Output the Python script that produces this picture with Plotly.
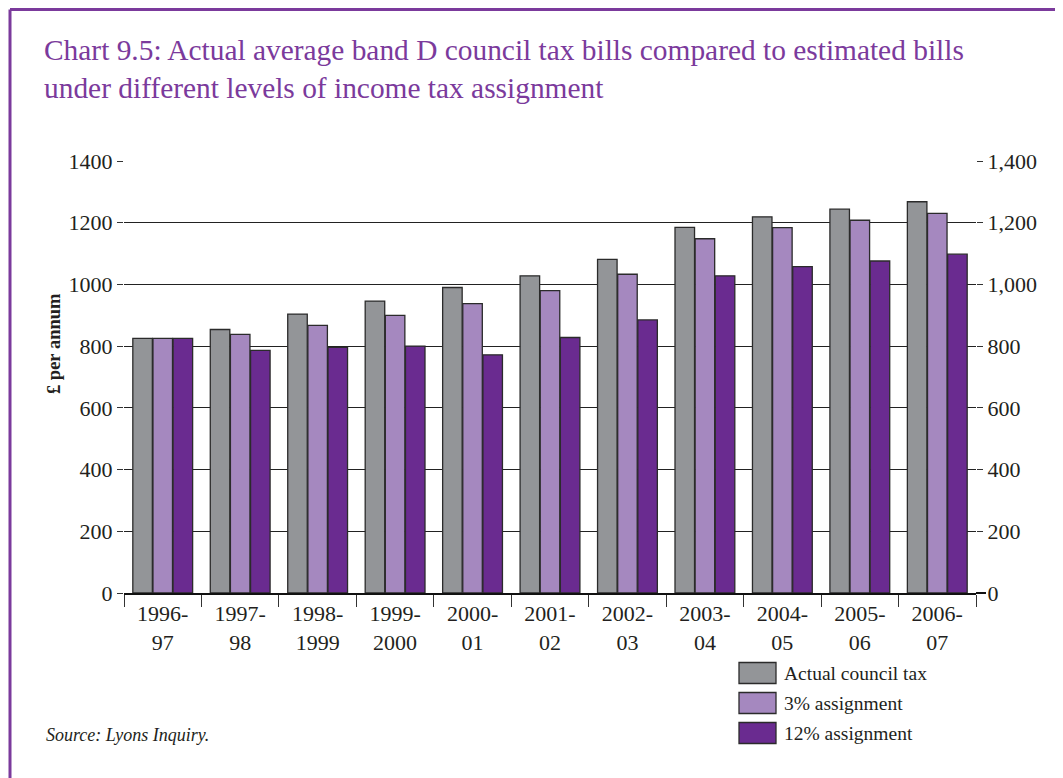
import plotly.graph_objects as go

# Jahre (zweizeilige Beschriftung wie im Original)
years = ["1996-<br>97", "1997-<br>98", "1998-<br>1999", "1999-<br>2000", "2000-<br>01",
         "2001-<br>02", "2002-<br>03", "2003-<br>04", "2004-<br>05", "2005-<br>06", "2006-<br>07"]

actual = [825, 854, 904, 946, 990, 1028, 1081, 1185, 1219, 1244, 1268]
assign_3 = [825, 838, 867, 900, 938, 980, 1033, 1148, 1184, 1208, 1230]
assign_12 = [825, 786, 796, 800, 772, 828, 885, 1028, 1058, 1076, 1098]

series_names = ["Actual council tax", "3% assignment", "12% assignment"]
colors = ["#939598", "#a588bf", "#6a2b90"]

FONT = "Liberation Serif"
PURPLE = "#7b3a9c"
TEXT = "#231f20"

# die Seite hat 8px Rand -> alles in Bildschirm-Pixeln angeben und umrechnen
OFF = 8
W, H = 1063 - OFF, 778 - OFF
L, R, T, B = 124 - OFF, 976 - OFF, 161 - OFF, 593 - OFF

def px_x(x):
    return (x - OFF - L) / (R - L)

def px_y(y):
    return (B - (y - OFF)) / (B - T)

fig = go.Figure()
for name, vals, col in zip(series_names, [actual, assign_3, assign_12], colors):
    fig.add_trace(go.Bar(x=years, y=vals, name=name, marker_color=col,
                         marker_line=dict(color="#2b2b2b", width=1.3),
                         showlegend=False))

# unsichtbare Linie, damit die rechte Achse gezeichnet wird
fig.add_trace(go.Scatter(x=years, y=actual, yaxis="y2", mode="lines", opacity=0,
                         showlegend=False, hoverinfo="skip"))

fig.update_layout(
    width=W, height=H,
    margin=dict(l=L, r=W - R, t=T, b=H - B),
    paper_bgcolor="white", plot_bgcolor="white",
    font=dict(family=FONT, color=TEXT, size=22),
    barmode="group", bargap=0.22, bargroupgap=0.03,
    title=dict(text="Chart 9.5: Actual average band D council tax bills compared to estimated bills<br>"
                    "under different levels of income tax assignment",
               x=(44 - OFF) / W, xanchor="left", xref="container",
               y=1 - 52 / H, yanchor="top", yref="container",
               font=dict(family=FONT, size=29.4, color=PURPLE)),
    xaxis=dict(range=[-0.5, len(years) - 0.5], showline=True, linecolor="#111", linewidth=2,
               ticks="outside", tickson="boundaries", ticklen=12, tickcolor="#333", tickwidth=1,
               tickfont=dict(size=22), showgrid=False),
    yaxis=dict(range=[0, 1400], dtick=200, tickformat="d", showgrid=True,
               gridcolor="#222", gridwidth=1.3, zeroline=False, showline=False,
               ticks="outside", ticklen=6, tickcolor="#333", tickfont=dict(size=22)),
    yaxis2=dict(range=[0, 1400], dtick=200, tickformat=",", overlaying="y", side="right",
                showgrid=False, zeroline=False, showline=False,
                ticks="outside", ticklen=6, tickcolor="#333", tickfont=dict(size=22)),
)

fig.add_annotation(text="<b>£ per annum</b>", textangle=-90, x=px_x(54), y=px_y(344),
                   xref="paper", yref="paper", xanchor="center", yanchor="middle",
                   showarrow=False, font=dict(family=FONT, size=18.5, color=TEXT))
fig.add_annotation(text="<i>Source: Lyons Inquiry.</i>", x=px_x(44), y=px_y(735),
                   xref="paper", yref="paper", xanchor="left", yanchor="middle",
                   showarrow=False, font=dict(family=FONT, size=18, color=TEXT))

# Legende von Hand: große Kästchen wie im Original
legend_rows = [673, 703, 733]
for name, col, yc in zip(series_names, colors, legend_rows):
    fig.add_shape(type="rect", xref="paper", yref="paper",
                  x0=px_x(739), x1=px_x(776), y0=px_y(yc - 10.5), y1=px_y(yc + 10.5),
                  fillcolor=col, line=dict(color="#2b2b2b", width=1.3))
    fig.add_annotation(text=name, x=px_x(782), y=px_y(yc), xref="paper", yref="paper",
                       xanchor="left", yanchor="middle", showarrow=False,
                       font=dict(family=FONT, size=19.5, color=TEXT))

# x-Achse rechts etwas verlängert (wie im Original)
fig.add_shape(type="line", xref="paper", yref="paper", x0=1, x1=px_x(986), y0=0, y1=0,
              line=dict(color="#111", width=2))

# lila Rahmen oben und links
fig.add_shape(type="line", xref="paper", yref="paper", x0=px_x(10), x1=px_x(1070),
              y0=px_y(9.5), y1=px_y(9.5), line=dict(color=PURPLE, width=3))
fig.add_shape(type="line", xref="paper", yref="paper", x0=px_x(10), x1=px_x(10),
              y0=px_y(9.5), y1=px_y(790), line=dict(color=PURPLE, width=3))

fig.write_html("out.html")
